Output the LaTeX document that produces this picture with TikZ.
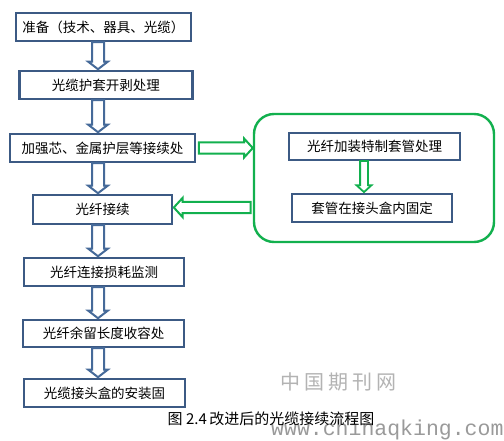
\documentclass[tikz,border=0pt]{standalone}
\usepackage{fontspec}
\newfontfamily\cjk{Noto Sans CJK SC}
\newfontfamily\wmono{Liberation Mono}
\usetikzlibrary{shapes.arrows,calc}
\definecolor{boxblue}{HTML}{3C5A84}
\definecolor{arrblue}{HTML}{466A99}
\definecolor{okgreen}{HTML}{12B04E}
\definecolor{wmgray}{HTML}{9A9A9A}
\tikzset{
  stepbox/.style={draw=boxblue, line width=2.8pt, fill=white, inner sep=0pt,
    font=\cjk\fontsize{13.5}{15}\selectfont, text=black},
  barrow/.style={single arrow, draw=arrblue, fill=white, line width=2pt,
    inner xsep=0pt, inner ysep=5pt, single arrow head extend=3.8pt,
    single arrow tip angle=105},
  garrow/.style={single arrow, draw=okgreen, fill=white, line width=2pt,
    inner xsep=0pt, inner ysep=4.6pt, single arrow head extend=4pt,
    single arrow tip angle=95},
  gsarrow/.style={single arrow, draw=okgreen, fill=white, line width=1.8pt,
    inner xsep=0pt, inner ysep=3pt, single arrow head extend=3.5pt,
    single arrow tip angle=95},
}
\newcommand\fatarrow[3]{\path let \p1=(#2), \p2=(#3),
  \n1={veclen(\x2-\x1,\y2-\y1)}, \n2={atan2(\y2-\y1,\x2-\x1)} in
  (\p1) node[#1, minimum height=\n1, rotate=\n2, anchor=tail]{};}
\begin{document}
\begin{tikzpicture}[x=1pt,y=-1pt]
\useasboundingbox[fill=white] (0,0) rectangle (504,440);
% watermark
\node[text=wmgray!75, font=\cjk\fontsize{20}{22}\selectfont, inner sep=0] (wm1) at (338,382)
  {中\hspace{4pt}国\hspace{4pt}期\hspace{4pt}刊\hspace{4pt}网};
\node[text=wmgray, font=\wmono\fontsize{21.5}{24}\selectfont, anchor=west, inner sep=0] (wm2) at (271,430)
  {www.chinaqking.com};
% green container
\node[draw=okgreen, line width=2.4pt, rounded corners=20pt, minimum width=240pt,
  minimum height=128pt, inner sep=0] (grp) at (374,178) {};
% main boxes
\node[stepbox, minimum width=175pt, minimum height=28pt] (b1) at (103.5,27) {准备（技术、器具、光缆）};
\node[stepbox, minimum width=173pt, minimum height=28pt] (b2) at (106,85) {光缆护套开剥处理};
\node[stepbox, minimum width=185pt, minimum height=28pt] (b3) at (102.5,148) {加强芯、金属护层等接续处};
\node[stepbox, minimum width=139pt, minimum height=29pt] (b4) at (102.5,209.5) {光纤接续};
\node[stepbox, minimum width=160pt, minimum height=28pt] (b5) at (104,272) {光纤连接损耗监测};
\node[stepbox, minimum width=161pt, minimum height=27pt] (b6) at (103.5,333.5) {光纤余留长度收容处};
\node[stepbox, minimum width=161pt, minimum height=28pt] (b7) at (104.5,393) {光缆接头盒的安装固};
% inner boxes
\node[stepbox, minimum width=171pt, minimum height=27pt] (ia) at (374.5,146.5) {光纤加装特制套管处理};
\node[stepbox, minimum width=160pt, minimum height=28pt] (ib) at (372,208) {套管在接头盒内固定};
% caption
\node[font=\cjk\fontsize{15}{17}\selectfont, inner sep=0] (cap) at (271,419) {图 2.4\,改进后的光缆接续流程图};
% arrow column
\coordinate (ax) at (98,0);
\coordinate (gx) at (364,0);
\fatarrow{barrow}{$(b1.south -| ax)+(0,-1.4)$}{$(b2.north -| ax)+(0,-1.4)$}
\fatarrow{barrow}{$(b2.south -| ax)+(0,-1.4)$}{$(b3.north -| ax)+(0,-1.4)$}
\fatarrow{barrow}{$(b3.south -| ax)+(0,-1.4)$}{$(b4.north -| ax)+(0,-1.4)$}
\fatarrow{barrow}{$(b4.south -| ax)+(0,-1.4)$}{$(b5.north -| ax)+(0,-1.4)$}
\fatarrow{barrow}{$(b5.south -| ax)+(0,-1.4)$}{$(b6.north -| ax)+(0,-1.4)$}
\fatarrow{barrow}{$(b6.south -| ax)+(0,-1.4)$}{$(b7.north -| ax)+(0,-1.4)$}
% green arrows
\fatarrow{garrow}{$(b3.east)+(1.4,0)$}{$(b3.east -| grp.west)+(-1,0)$}
\fatarrow{garrow}{$(grp.west |- b4.east)+(-1.2,-2)$}{$(b4.east)+(1.4,-2)$}
\fatarrow{gsarrow}{$(ia.south -| gx)+(0,-1.4)$}{$(ib.north -| gx)+(0,-1.4)$}
\end{tikzpicture}
\end{document}
